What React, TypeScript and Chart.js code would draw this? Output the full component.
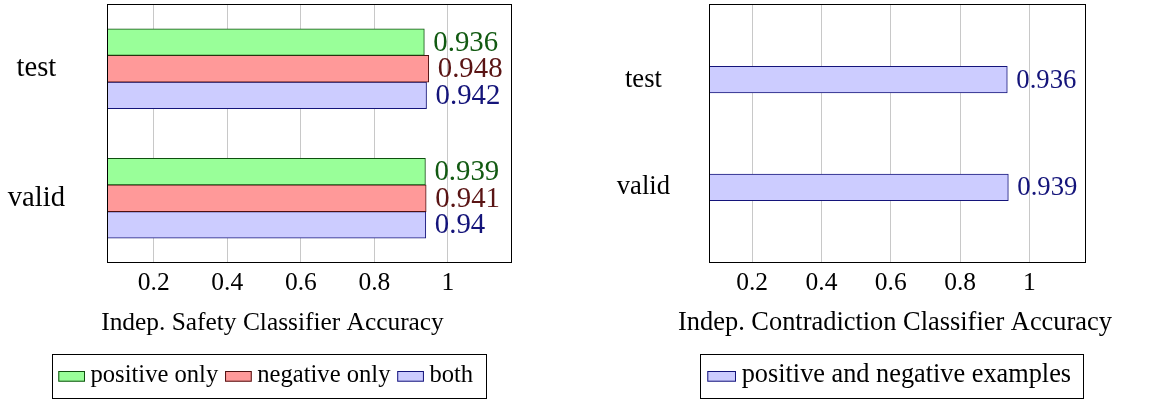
import React, { useEffect, useRef } from 'react';
import { Chart, registerables } from 'chart.js';

Chart.register(...registerables);

// ---- data ----
const categories = ['test', 'valid'];
const safetyPositiveOnly = [0.936, 0.939];
const safetyNegativeOnly = [0.948, 0.941];
const safetyBoth = [0.942, 0.94];
const contradictionBoth = [0.936, 0.939];
const xTickValues = [0.2, 0.4, 0.6, 0.8, 1];
const safetyLegend = ['positive only', 'negative only', 'both'];
const contradictionLegend = ['positive and negative examples'];
const safetyTitle = 'Indep. Safety Classifier Accuracy';
const contradictionTitle = 'Indep. Contradiction Classifier Accuracy';

const FONT = "'Liberation Serif', 'Times New Roman', serif";

const GREEN = { fill: '#99ff99', stroke: '#0f4f0f', text: '#125a12' };
const RED = { fill: '#ff9999', stroke: '#4f1010', text: '#5a1414' };
const BLUE = { fill: '#ccccff', stroke: '#14147a', text: '#14147a' };

const fmt = (v: number) => String(v);
const fmtTick = (v: number) => String(Math.round(v * 10) / 10);

const framePlugin = {
  id: 'frame',
  afterDraw(chart: any) {
    const { ctx, chartArea: a } = chart;
    ctx.save();
    ctx.strokeStyle = '#000';
    ctx.lineWidth = 1;
    ctx.strokeRect(a.left + 0.5, a.top + 0.5, a.right - a.left - 1, a.bottom - a.top - 1);
    ctx.restore();
  },
};

const barLabelsPlugin = {
  id: 'barLabels',
  afterDatasetsDraw(chart: any, _args: any, opts: any) {
    const { ctx } = chart;
    ctx.save();
    ctx.font = `${opts.size}px ${FONT}`;
    ctx.textAlign = 'left';
    ctx.textBaseline = 'middle';
    chart.data.datasets.forEach((ds: any, di: number) => {
      const meta = chart.getDatasetMeta(di);
      meta.data.forEach((bar: any, i: number) => {
        ctx.fillStyle = ds.labelColor;
        ctx.fillText(fmt(ds.data[i].x), bar.x + opts.gap, bar.y + 1);
      });
    });
    ctx.restore();
  },
};

const captionPlugin = {
  id: 'caption',
  afterDraw(chart: any, _args: any, opts: any) {
    const { ctx } = chart;
    ctx.save();
    ctx.font = `${opts.size}px ${FONT}`;
    ctx.fillStyle = '#000';
    ctx.textAlign = 'center';
    ctx.textBaseline = 'alphabetic';
    ctx.fillText(opts.text, opts.x, opts.baseline);
    ctx.restore();
  },
};

const boxLegendPlugin = {
  id: 'boxLegend',
  afterDraw(chart: any, _args: any, opts: any) {
    const { ctx } = chart;
    ctx.save();
    ctx.strokeStyle = '#000';
    ctx.lineWidth = 1;
    ctx.strokeRect(opts.left + 0.5, opts.top + 0.5, opts.right - opts.left - 1, opts.bottom - opts.top - 1);
    ctx.font = `${opts.size}px ${FONT}`;
    ctx.textAlign = 'left';
    ctx.textBaseline = 'alphabetic';
    let x = opts.left + opts.padLeft;
    chart.data.datasets.forEach((ds: any) => {
      ctx.fillStyle = ds.backgroundColor;
      ctx.fillRect(x, opts.swatchTop, opts.swatchW, opts.swatchH);
      ctx.strokeStyle = ds.borderColor;
      ctx.strokeRect(x + 0.5, opts.swatchTop + 0.5, opts.swatchW - 1, opts.swatchH - 1);
      x += opts.swatchW + opts.textGap;
      ctx.fillStyle = '#000';
      ctx.fillText(ds.label, x, opts.baseline);
      x += ctx.measureText(ds.label).width + opts.itemGap;
    });
    ctx.restore();
  },
};

function makeDataset(label: string, values: number[], c: any, yKey: (i: number) => any) {
  return {
    label,
    data: values.map((v, i) => ({ x: v, y: yKey(i) })),
    backgroundColor: c.fill,
    borderColor: c.stroke,
    labelColor: c.text,
    borderWidth: 1,
    borderSkipped: false,
    barThickness: 26.6,
    xAxisID: 'x',
    yAxisID: 'y',
  };
}

function xScale(min: number, max: number, size: number, height: number, pad: number) {
  return {
    type: 'linear',
    position: 'bottom',
    min,
    max,
    bounds: 'data',
    afterBuildTicks: (s: any) => {
      s.ticks = xTickValues.map((v) => ({ value: v }));
    },
    afterFit: (s: any) => {
      s.height = height;
    },
    ticks: {
      color: '#000',
      font: { family: FONT, size },
      padding: pad,
      maxRotation: 0,
      autoSkip: false,
      callback: (v: number) => fmtTick(v),
    },
    grid: { color: '#c8c8c8', drawTicks: false, lineWidth: 1 },
    border: { display: false },
  };
}

function fixY(width: number) {
  return (s: any) => {
    s.width = width;
    s.paddingTop = 0;
    s.paddingBottom = 0;
  };
}

function SafetyChart() {
  const ref = useRef<HTMLCanvasElement>(null);
  useEffect(() => {
    const byLabel = (i: number) => categories[i];
    const chart = new Chart(ref.current as HTMLCanvasElement, {
      type: 'bar',
      data: {
        labels: categories,
        datasets: [
          makeDataset(safetyLegend[0], safetyPositiveOnly, GREEN, byLabel),
          makeDataset(safetyLegend[1], safetyNegativeOnly, RED, byLabel),
          makeDataset(safetyLegend[2], safetyBoth, BLUE, byLabel),
        ] as any,
      },
      options: {
        indexAxis: 'y',
        animation: false,
        responsive: false,
        layout: { padding: { left: 0, top: 4, right: 73, bottom: 0 } },
        scales: {
          x: xScale(0.0727, 1.1745, 25.5, 138, 5) as any,
          y: {
            type: 'category',
            position: 'left',
            offset: true,
            afterFit: fixY(107),
            ticks: {
              color: '#000',
              font: { family: FONT, size: 28.6 },
              crossAlign: 'center',
              padding: 42,
            },
            grid: { display: false, drawTicks: false },
            border: { display: false },
          },
        } as any,
        plugins: {
          legend: { display: false },
          tooltip: { enabled: false },
          barLabels: { size: 28.8, gap: 9 },
          caption: { text: safetyTitle, x: 272.5, baseline: 330, size: 25.4 },
          boxLegend: {
            left: 52, right: 487, top: 354, bottom: 399, size: 24.6,
            padLeft: 6.3, swatchW: 26.7, swatchH: 10.7, swatchTop: 371,
            textGap: 5.5, itemGap: 6.8, baseline: 382,
          },
        } as any,
      },
      plugins: [framePlugin, barLabelsPlugin, captionPlugin, boxLegendPlugin] as any,
    });
    return () => chart.destroy();
  }, []);
  return <canvas ref={ref} width={585} height={401} style={{ position: 'absolute', left: 0, top: 0 }} />;
}

function ContradictionChart() {
  const ref = useRef<HTMLCanvasElement>(null);
  useEffect(() => {
    const ds = makeDataset(contradictionLegend[0], contradictionBoth, BLUE, (i: number) => i) as any;
    const chart = new Chart(ref.current as HTMLCanvasElement, {
      type: 'bar',
      data: { labels: categories, datasets: [ds] },
      options: {
        indexAxis: 'y',
        animation: false,
        responsive: false,
        layout: { padding: { left: 0, top: 4, right: 84, bottom: 0 } },
        scales: {
          x: xScale(0.0757, 1.163, 25.5, 138, 5) as any,
          y: {
            type: 'linear',
            position: 'left',
            offset: false,
            min: -0.7,
            max: 1.7,
            reverse: true,
            bounds: 'data',
            afterBuildTicks: (s: any) => {
              s.ticks = categories.map((_, i) => ({ value: i }));
            },
            afterFit: fixY(124),
            ticks: {
              color: '#000',
              font: { family: FONT, size: 26.6 },
              crossAlign: 'center',
              padding: 39,
              autoSkip: false,
              callback: (v: number) => categories[v],
            },
            grid: { display: false, drawTicks: false },
            border: { display: false },
          },
        } as any,
        plugins: {
          legend: { display: false },
          tooltip: { enabled: false },
          barLabels: { size: 26.7, gap: 9 },
          caption: { text: contradictionTitle, x: 310, baseline: 330, size: 26.4 },
          boxLegend: {
            left: 115, right: 499, top: 354, bottom: 399, size: 26.3,
            padLeft: 7.3, swatchW: 28.7, swatchH: 10.7, swatchTop: 371,
            textGap: 5.7, itemGap: 6, baseline: 382,
          },
        } as any,
      },
      plugins: [framePlugin, barLabelsPlugin, captionPlugin, boxLegendPlugin] as any,
    });
    return () => chart.destroy();
  }, []);
  return <canvas ref={ref} width={585} height={401} style={{ position: 'absolute', left: 585, top: 0 }} />;
}

export default function App() {
  return (
    <div style={{ position: 'fixed', left: 0, top: 0, width: 1170, height: 401, background: '#fff', overflow: 'hidden' }}>
      <SafetyChart />
      <ContradictionChart />
    </div>
  );
}
